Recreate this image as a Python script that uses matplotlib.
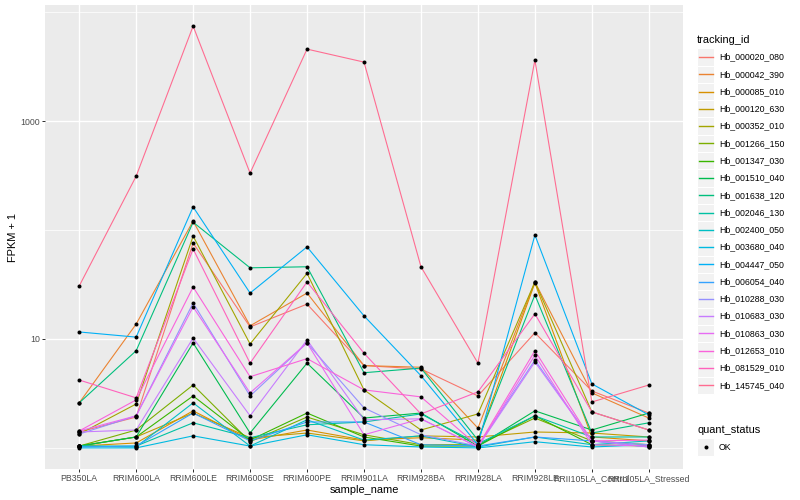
import matplotlib
matplotlib.use("Agg")
import matplotlib.pyplot as plt
from matplotlib.ticker import NullFormatter
import numpy as np

plt.rcParams["font.family"] = ["Liberation Sans", "DejaVu Sans"]

samples = ["PB350LA", "RRIM600LA", "RRIM600LE", "RRIM600SE", "RRIM600PE", "RRIM901LA",
           "RRIM928BA", "RRIM928LA", "RRIM928LE", "RRII105LA_Control", "RRII105LA_Stressed"]

tracking_ids = ["Hb_000020_080", "Hb_000042_390", "Hb_000085_010", "Hb_000120_630", "Hb_000352_010",
                "Hb_001266_150", "Hb_001347_030", "Hb_001510_040", "Hb_001638_120", "Hb_002046_130",
                "Hb_002400_050", "Hb_003680_040", "Hb_004447_050", "Hb_006054_040", "Hb_010288_030",
                "Hb_010683_030", "Hb_010863_030", "Hb_012653_010", "Hb_081529_010", "Hb_145745_040"]

# ggplot hue palette for 20 levels
colors = ["#F8766D", "#EA8331", "#D89000", "#C09B00", "#A3A500", "#7CAE00", "#39B600", "#00BB4E",
          "#00BF7D", "#00C1A3", "#00BFC4", "#00BAE0", "#00B0F6", "#35A2FF", "#9590FF", "#C77CFF",
          "#E76BF3", "#FA62DB", "#FF62BC", "#FF6C91"]

# FPKM values per gene, one value per sample
hb_000020_080 = [0.40, 0.92, 75, 11.9, 19.9, 4.7, 4.3, 2.0, 10.4, 2.33, 1.09]
hb_000042_390 = [1.59, 12.7, 120, 12.2, 25.4, 4.7, 4.5, 0.52, 32.4, 2.2, 0.88]
hb_000085_010 = [0.04, 0.11, 1.19, 0.18, 0.46, 0.18, 0.24, 0.18, 31.7, 0.26, 0.16]
hb_000120_630 = [0.04, 0.26, 1.09, 0.24, 0.37, 0.16, 0.29, 0.26, 0.40, 0.37, 0.26]
hb_000352_010 = [0.34, 1.53, 87, 8.0, 39, 2.41, 0.46, 1.05, 32.4, 1.14, 0.46]
hb_001266_150 = [0.04, 0.46, 2.78, 0.14, 0.92, 0.32, 0.07, 0.07, 0.88, 0.16, 0.07]
hb_001347_030 = [0.04, 0.26, 2.0, 0.18, 1.09, 0.26, 0.04, 0.04, 0.97, 0.07, 0.04]
hb_001510_040 = [0.04, 0.26, 8.2, 0.37, 5.0, 0.88, 1.09, 0.04, 1.19, 0.46, 1.09]
hb_001638_120 = [1.59, 6.8, 117, 44, 45, 3.9, 4.4, 0.18, 24.4, 0.37, 0.70]
hb_002046_130 = [0.04, 0.04, 0.70, 0.24, 0.63, 0.73, 1.05, 0.09, 0.97, 0.26, 0.26]
hb_002400_050 = [0.04, 0.02, 1.59, 0.04, 0.81, 0.18, 0.29, 0.02, 0.26, 0.07, 0.16]
hb_003680_040 = [0.0, 0.0, 0.29, 0.04, 0.32, 0.07, 0.02, 0.0, 0.14, 0.02, 0.07]
hb_004447_050 = [10.6, 9.4, 162, 25.4, 69, 15.3, 3.6, 0.07, 89, 2.87, 1.01]
hb_006054_040 = [0.02, 0.04, 1.09, 0.16, 0.73, 0.73, 0.07, 0.04, 0.26, 0.16, 0.02]
hb_010288_030 = [0.34, 0.97, 20.4, 2.0, 8.2, 1.33, 0.32, 0.04, 5.4, 0.16, 0.07]
hb_010683_030 = [0.40, 0.46, 9.2, 0.97, 8.8, 0.81, 0.85, 0.02, 5.15, 0.16, 0.02]
hb_010863_030 = [0.43, 0.97, 18.7, 2.2, 8.2, 0.32, 0.85, 0.02, 6.1, 0.07, 0.04]
hb_012653_010 = [0.43, 1.76, 29, 3.5, 5.6, 2.41, 1.94, 0.04, 6.8, 0.16, 0.18]
hb_081529_010 = [3.2, 1.88, 66, 5.0, 32.4, 6.4, 1.05, 2.27, 16.0, 1.14, 0.46]
hb_145745_040 = [29.6, 311, 7449, 332, 4579, 3479, 45, 5.0, 3629, 1.64, 2.78]

series = [hb_000020_080, hb_000042_390, hb_000085_010, hb_000120_630, hb_000352_010,
          hb_001266_150, hb_001347_030, hb_001510_040, hb_001638_120, hb_002046_130,
          hb_002400_050, hb_003680_040, hb_004447_050, hb_006054_040, hb_010288_030,
          hb_010683_030, hb_010863_030, hb_012653_010, hb_081529_010, hb_145745_040]

DPI = 72
W, H = 800, 500
fig = plt.figure(figsize=(W / DPI, H / DPI), dpi=DPI)
fig.patch.set_facecolor("white")

# panel in pixel coords: x 45..683, y 5..469
ax = fig.add_axes([45 / W, 1 - 469 / H, (683 - 45) / W, (469 - 5) / H])
ax.set_facecolor("#EBEBEB")

x = np.arange(len(samples))
for vals, col in zip(series, colors):
    ax.plot(x, np.array(vals) + 1, color=col, lw=1.1, zorder=2, solid_capstyle="butt")
for vals in series:
    ax.plot(x, np.array(vals) + 1, "o", color="black", ms=4.0, mew=0, zorder=3)

ax.set_yscale("log")
allv = np.concatenate([np.array(v) + 1 for v in series])
lo, hi = np.log10(allv.min()), np.log10(allv.max())
pad = 0.05 * (hi - lo)
ax.set_ylim(10 ** (lo - pad), 10 ** (hi + pad))
ax.set_xlim(-0.6, len(samples) - 0.4)

ax.set_xticks(x)
ax.set_xticklabels(samples)
ax.set_yticks([10, 1000])
ax.set_yticklabels(["10", "1000"])
ax.set_yticks([1, 100, 10000], minor=True)
ax.yaxis.set_minor_formatter(NullFormatter())
ax.xaxis.set_minor_locator(matplotlib.ticker.NullLocator())

ax.grid(which="major", color="white", lw=1.4)
ax.grid(which="minor", axis="y", color="white", lw=0.7)
ax.set_axisbelow(True)
for s in ax.spines.values():
    s.set_visible(False)
ax.tick_params(which="major", length=2.75, width=1.0, color="#333333",
               labelcolor="#4D4D4D", labelsize=8.8, pad=2.2)
ax.tick_params(which="minor", length=0)

ax.set_xlabel("sample_name", fontsize=11, color="black", labelpad=2.5)
ax.set_ylabel("FPKM + 1", fontsize=11, color="black", labelpad=2)

# legend drawn in pixel coordinates
lax = fig.add_axes([690 / W, 0, 110 / W, 1])
lax.set_xlim(690, 800)
lax.set_ylim(H, 0)
lax.axis("off")

key = 17.28
lax.text(697, 40, "tracking_id", fontsize=11, va="center", ha="left")
for i, (name, col) in enumerate(zip(tracking_ids, colors)):
    yc = 57 + i * key
    lax.add_patch(plt.Rectangle((697, yc - key / 2), key, key, facecolor="#F2F2F2",
                                edgecolor="white", lw=1.0, zorder=1))
    lax.plot([698.5, 697 + key - 1.5], [yc, yc], color=col, lw=1.4, zorder=2)
    lax.text(719, yc, name, fontsize=8.8, va="center", ha="left")

lax.text(697, 430, "quant_status", fontsize=11, va="center", ha="left")
yc = 447
lax.add_patch(plt.Rectangle((697, yc - key / 2), key, key, facecolor="#F2F2F2",
                            edgecolor="white", lw=1.0, zorder=1))
lax.plot([697 + key / 2], [yc], "o", color="black", ms=4.0, mew=0, zorder=2)
lax.text(719, yc, "OK", fontsize=8.8, va="center", ha="left")

fig.savefig("out.png", dpi=DPI)
